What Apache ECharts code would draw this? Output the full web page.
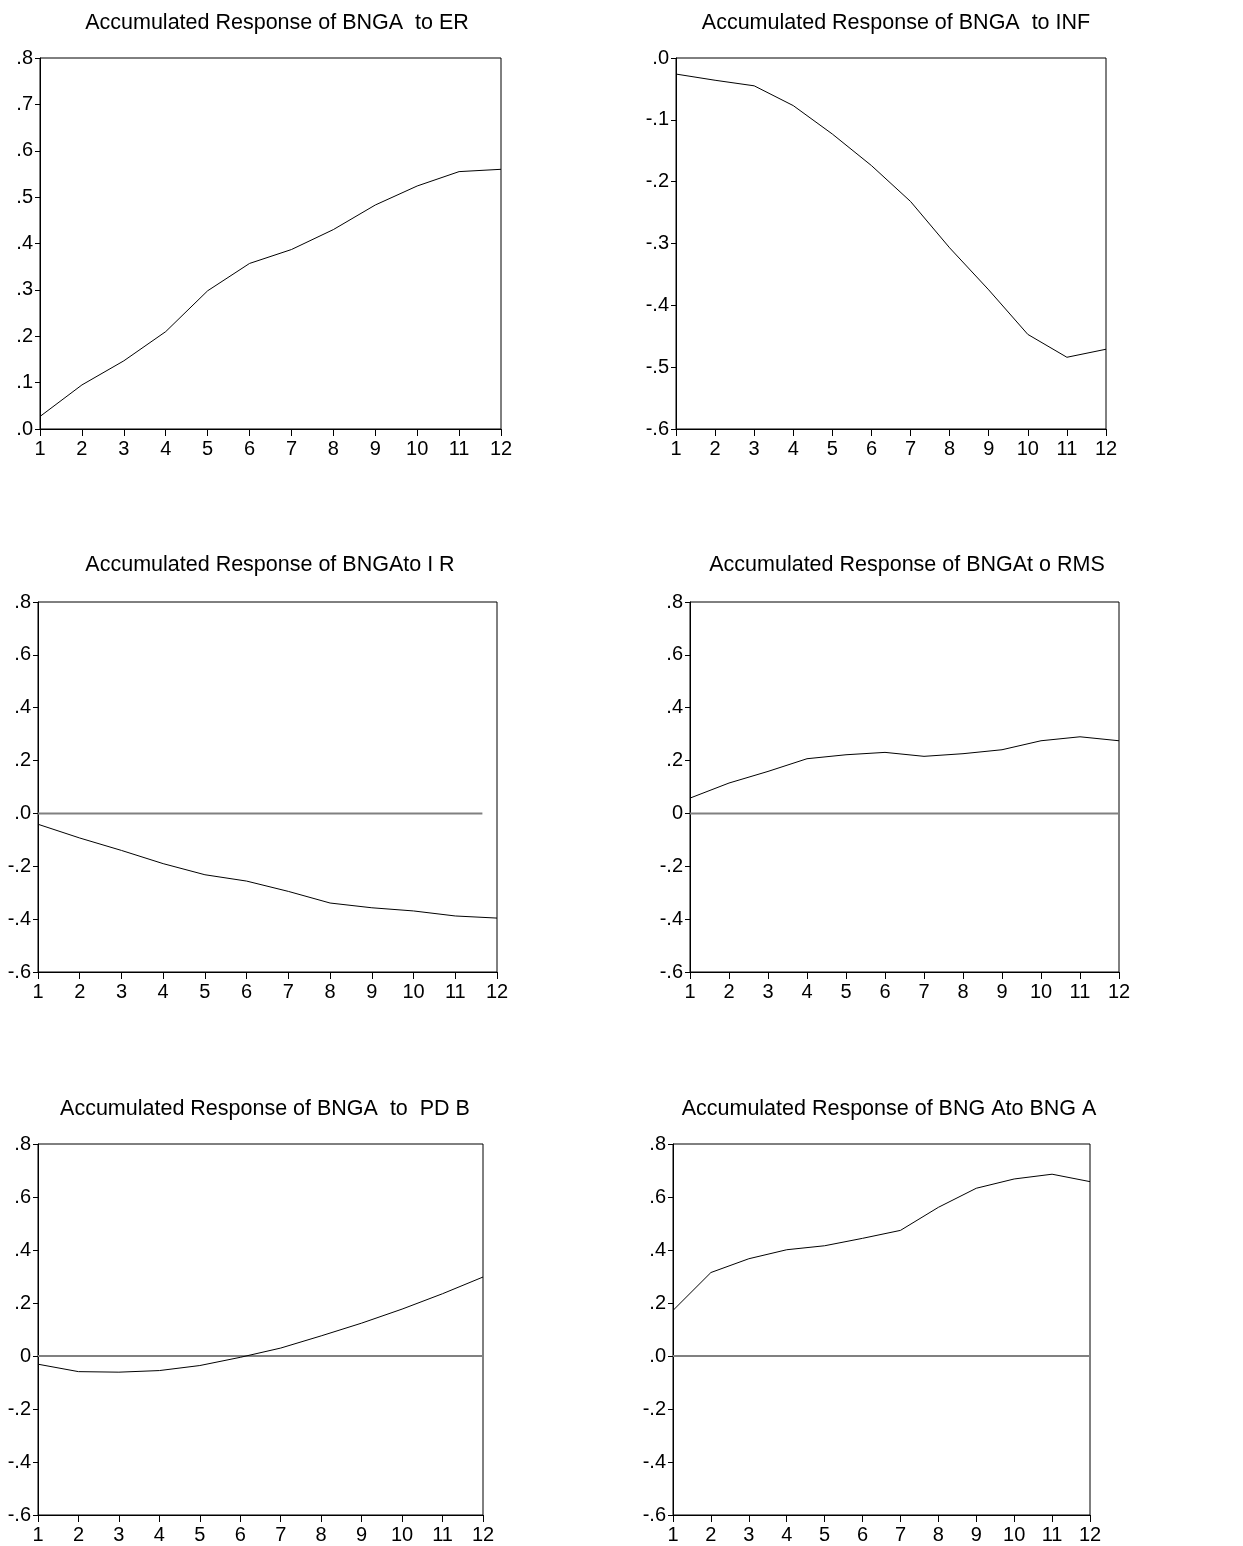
<!DOCTYPE html>
<html>
<head>
<meta charset="utf-8">
<script src="https://cdn.jsdelivr.net/npm/echarts@6/dist/echarts.min.js"></script>
<style>
html,body{margin:0;padding:0;background:#fff;}
#chart{width:1243px;height:1546px;}
</style>
</head>
<body>
<div id="chart"></div>
<script>
// ---- data ----
const periods = [1,2,3,4,5,6,7,8,9,10,11,12];
const xTickLabels = ['1','2','3','4','5','6','7','8','9','10','11','12'];

const titles = [
  'Accumulated Response of BNGA  to ER',
  'Accumulated Response of BNGA  to INF',
  'Accumulated Response of BNGAto I R',
  'Accumulated Response of BNGAt o RMS',
  'Accumulated Response of BNGA  to  PD B',
  'Accumulated Response of BNG Ato BNG A'
];

const erVals   = [0.027,0.095,0.147,0.210,0.298,0.357,0.387,0.430,0.483,0.524,0.555,0.560];
const infVals  = [-0.026,-0.036,-0.045,-0.077,-0.123,-0.174,-0.232,-0.307,-0.375,-0.447,-0.484,-0.471];
const irVals   = [-0.041,-0.093,-0.140,-0.190,-0.232,-0.256,-0.295,-0.339,-0.357,-0.369,-0.388,-0.396];
const rmsVals  = [0.058,0.115,0.159,0.207,0.222,0.231,0.216,0.226,0.241,0.275,0.290,0.275];
const pdbVals  = [-0.031,-0.059,-0.061,-0.055,-0.036,-0.005,0.030,0.076,0.124,0.177,0.235,0.298];
const bngaVals = [0.172,0.315,0.367,0.401,0.416,0.444,0.474,0.561,0.633,0.668,0.686,0.658];

const erTicks    = ['.0','.1','.2','.3','.4','.5','.6','.7','.8'];
const infTicks   = ['-.6','-.5','-.4','-.3','-.2','-.1','.0'];
const wideTicks  = ['-.6','-.4','-.2','.0','.2','.4','.6','.8'];
const wideTicksZ = ['-.6','-.4','-.2','0','.2','.4','.6','.8'];

// zero reference line extents (period range) per panel, null = none
const zeroLineEnds = [null, null, [1, 11.65], [1, 12], [1, 12.33], [1, 12]];

// ---- layout ----
const panels = [
  {vals: erVals,   ticks: erTicks,    min: 0,    max: 0.8, step: 0.1, grid: {left: 40,  top: 58,   width: 461, height: 371}, title: {x: 277, y: 12}},
  {vals: infVals,  ticks: infTicks,   min: -0.6, max: 0,   step: 0.1, grid: {left: 676, top: 58,   width: 430, height: 371}, title: {x: 896, y: 12}},
  {vals: irVals,   ticks: wideTicks,  min: -0.6, max: 0.8, step: 0.2, grid: {left: 38,  top: 602,  width: 459, height: 370}, title: {x: 270, y: 554}},
  {vals: rmsVals,  ticks: wideTicksZ, min: -0.6, max: 0.8, step: 0.2, grid: {left: 690, top: 602,  width: 429, height: 370}, title: {x: 907, y: 554}},
  {vals: pdbVals,  ticks: wideTicksZ, min: -0.6, max: 0.8, step: 0.2, grid: {left: 38,  top: 1144, width: 445, height: 371}, title: {x: 265, y: 1098}},
  {vals: bngaVals, ticks: wideTicks,  min: -0.6, max: 0.8, step: 0.2, grid: {left: 673, top: 1144, width: 417, height: 371}, title: {x: 889, y: 1098}}
];

const FONT = '"Liberation Sans", Arial, sans-serif';
const option = {
  backgroundColor: '#ffffff',
  animation: false,
  title: [], grid: [], xAxis: [], yAxis: [], series: []
};

panels.forEach((p, i) => {
  option.title.push({
    text: titles[i], left: p.title.x, top: p.title.y, textAlign: 'center', padding: 0,
    textStyle: {fontFamily: FONT, fontSize: 21.5, fontWeight: 'normal', color: '#000'}
  });
  option.grid.push(Object.assign({show: true, borderColor: '#000', borderWidth: 1, backgroundColor: 'transparent'}, p.grid));
  option.xAxis.push({
    type: 'value', gridIndex: i, min: periods[0], max: periods[periods.length - 1], interval: 1,
    axisLine: {onZero: false, lineStyle: {color: '#000', width: 1}},
    axisTick: {show: true, inside: false, length: 7, lineStyle: {color: '#000'}},
    axisLabel: {color: '#000', fontFamily: FONT, fontSize: 20, margin: 10,
      formatter: (v) => { const k = periods.indexOf(Math.round(v)); return k >= 0 ? xTickLabels[k] : ''; }},
    splitLine: {show: false}
  });
  option.yAxis.push({
    type: 'value', gridIndex: i, min: p.min, max: p.max, interval: p.step,
    axisLine: {show: true, onZero: false, lineStyle: {color: '#000', width: 1}},
    axisTick: {show: true, inside: false, length: 5, lineStyle: {color: '#000'}},
    axisLabel: {color: '#000', fontFamily: FONT, fontSize: 20, margin: 7,
      formatter: (v, idx) => p.ticks[idx] !== undefined ? p.ticks[idx] : ''},
    splitLine: {show: false}
  });
  option.series.push({
    type: 'line', xAxisIndex: i, yAxisIndex: i, symbol: 'none', silent: true,
    lineStyle: {color: '#000', width: 1},
    data: periods.map((t, k) => [t, p.vals[k]]), z: 3
  });
  const z = zeroLineEnds[i];
  if (z) {
    option.series.push({
      type: 'line', xAxisIndex: i, yAxisIndex: i, symbol: 'none', silent: true, clip: false,
      lineStyle: {color: '#808080', width: 2},
      data: [[z[0], 0], [z[1], 0]], z: 2
    });
  }
});

const chart = echarts.init(document.getElementById('chart'), null, {renderer: 'canvas'});
chart.setOption(option);
</script>
</body>
</html>
